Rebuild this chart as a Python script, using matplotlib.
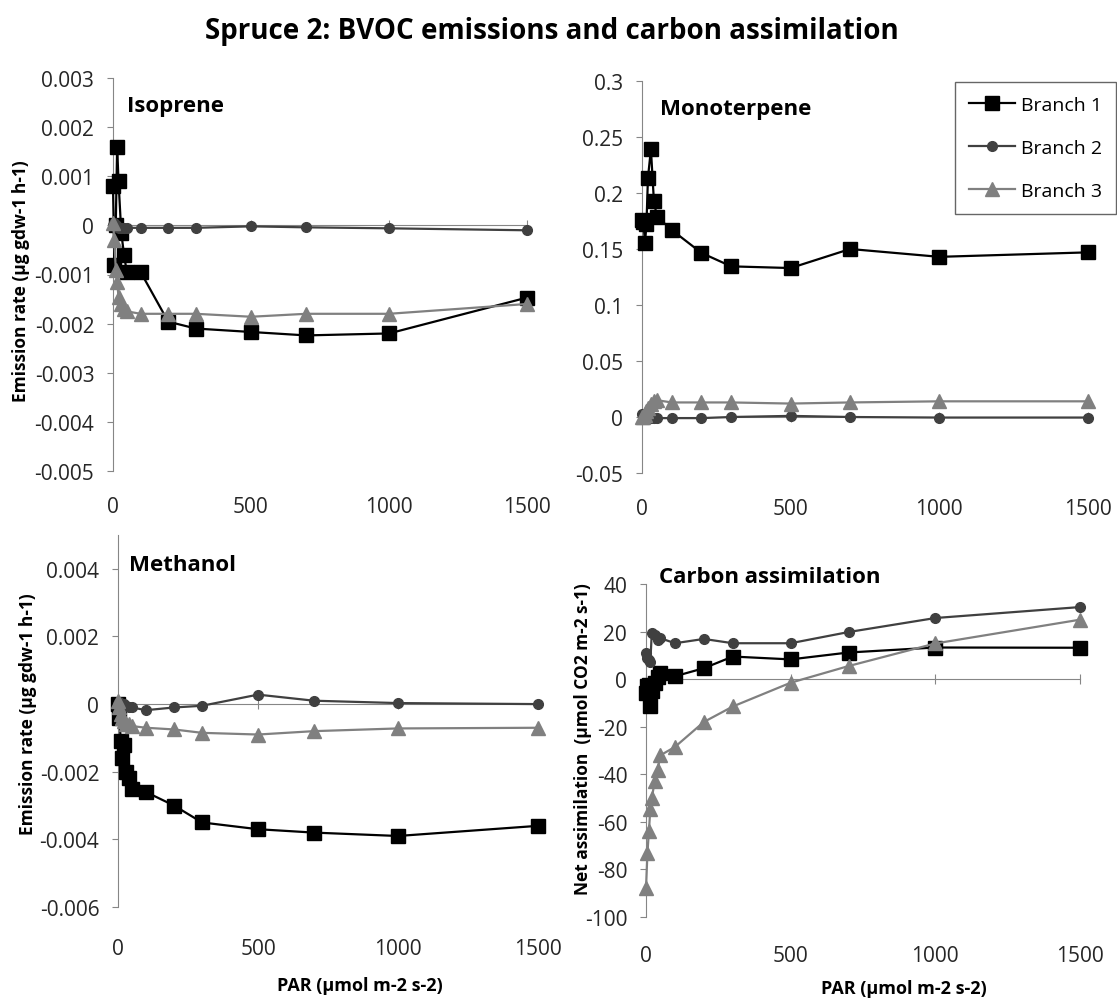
import numpy as np
import matplotlib.pyplot as plt
from matplotlib.lines import Line2D

plt.rcParams['font.family'] = ['Open Sans', 'DejaVu Sans']

# light levels used for all series
par = [0, 5, 10, 15, 20, 30, 40, 50, 100, 200, 300, 500, 700, 1000, 1500]

iso_b1 = [0.0008, -0.0008, 0.0, 0.0016, 0.0009, -0.00015, -0.0006, -0.00095, -0.00095,
          -0.00196, -0.0021, -0.00217, -0.00224, -0.0022, -0.00147]
iso_b2 = [0.0, 0.00005, 0.0, -0.00003, -0.00005, -0.00005, -0.00005, -0.00005, -0.00005,
          -0.00005, -0.00005, -0.00002, -0.00004, -0.00006, -0.0001]
iso_b3 = [0.00005, -0.0003, -0.0009, -0.00115, -0.00145, -0.0016, -0.0017, -0.00175, -0.0018,
          -0.0018, -0.0018, -0.00186, -0.0018, -0.0018, -0.0016]

mono_b1 = [0.176, 0.174, 0.155, 0.172, 0.2135, 0.239, 0.193, 0.179, 0.167,
           0.1465, 0.1345, 0.133, 0.15, 0.143, 0.147]
mono_b2 = [0.003, 0.001, 0.0, -0.001, 0.0, -0.001, -0.001, -0.001, -0.001,
           -0.001, 0.0, 0.001, 0.0, -0.0005, -0.0005]
mono_b3 = [0.0, 0.0, 0.002, 0.005, 0.008, 0.012, 0.014, 0.015, 0.013,
           0.013, 0.013, 0.012, 0.013, 0.014, 0.014]

meth_b1 = [0.0, -0.0004, -0.0011, -0.0016, -0.0012, -0.002, -0.0022, -0.0025, -0.0026,
           -0.003, -0.0035, -0.0037, -0.0038, -0.0039, -0.0036]
meth_b2 = [0.0, 0.00005, 0.0, -0.00005, 0.0, -0.00005, -0.0001, -0.0001, -0.00018,
           -0.0001, -0.00005, 0.00028, 0.0001, 0.00003, 0.0]
meth_b3 = [0.0001, -0.0001, -0.0003, -0.0004, -0.0005, -0.0006, -0.0006, -0.00065, -0.0007,
           -0.00075, -0.00085, -0.0009, -0.0008, -0.00072, -0.0007]

carb_b1 = [-6, -3, -2.5, -11.5, -5, -1.7, 1.1, 2.5, 1.2, 4.6, 9.5, 8.3, 11.2, 13.3, 13.2]
carb_b2 = [11, 9, 8, 7, 19.6, 18.5, 16.5, 17.2, 15.1, 16.9, 15.1, 15.1, 19.8, 25.7, 30.3]
carb_b3 = [-88, -73, -64, -54.5, -50, -43, -38, -32, -28.5, -18, -11.5, -1.5, 5.5, 15, 25]

branch_names = ['Branch 1', 'Branch 2', 'Branch 3']
colors = ['#000000', '#404040', '#808080']
markers = ['s', 'o', '^']
msizes = [9.5, 7, 9.5]

W, H = 1117, 1003
fig = plt.figure(figsize=(W / 100, H / 100), dpi=100)

def make_axes(left, right, top, bottom):
    return fig.add_axes([left / W, 1 - bottom / H, (right - left) / W, (bottom - top) / H])

def style(ax, ylim, yticks, fmt, title, tx, ty, label_pad):
    ax.set_xlim(0, 1500)
    ax.set_ylim(*ylim)
    ax.set_yticks(yticks)
    ax.set_yticklabels([fmt(v) for v in yticks])
    for s in ['top', 'right']:
        ax.spines[s].set_visible(False)
    ax.spines['left'].set_color('#868686')
    ax.spines['bottom'].set_color('#868686')
    ax.spines['bottom'].set_position(('data', 0))
    ax.spines['bottom'].set_zorder(0.5)
    ax.tick_params(axis='y', direction='out', length=4.5, width=0.8, color='#868686',
                   labelsize=15, labelcolor='#262626', pad=9)
    ax.set_xticks([0, 500, 1000, 1500])
    ax.tick_params(axis='x', direction='inout', length=7, width=0.8, color='#868686',
                   labelbottom=False)
    sec = ax.secondary_xaxis('bottom')
    sec.set_xticks([0, 500, 1000, 1500])
    sec.spines['bottom'].set_visible(False)
    sec.tick_params(length=0, labelsize=15, labelcolor='#262626', pad=label_pad)
    ax.text(tx, ty, title, transform=ax.transAxes, fontsize=16, fontweight='bold',
            va='center', ha='left')

def plot_series(ax, series):
    for i, ys in enumerate(series):
        ax.plot(par, ys, color=colors[i], marker=markers[i], markersize=msizes[i],
                linewidth=1.6, clip_on=False, zorder=3 + i, label=branch_names[i])

ax1 = make_axes(113, 527, 79, 472)
plot_series(ax1, [iso_b1, iso_b2, iso_b3])
style(ax1, (-0.005, 0.003), np.arange(-0.005, 0.0031, 0.001),
      lambda v: '0' if abs(v) < 1e-9 else f'{v:.3f}', 'Isoprene', 0.034, 0.931, 18)

ax2 = make_axes(642, 1088, 82, 474)
plot_series(ax2, [mono_b1, mono_b2, mono_b3])
style(ax2, (-0.05, 0.3), np.arange(-0.05, 0.301, 0.05),
      lambda v: '0' if abs(v) < 1e-9 else f'{v:g}' if abs(v * 10 - round(v * 10)) < 1e-9 else f'{v:.2f}',
      'Monoterpene', 0.04, 0.929, 18)

ax3 = make_axes(118, 538, 536, 908)
plot_series(ax3, [meth_b1, meth_b2, meth_b3])
style(ax3, (-0.006, 0.005), np.arange(-0.006, 0.0041, 0.002),
      lambda v: '0' if abs(v) < 1e-9 else f'{v:.3f}', 'Methanol', 0.026, 0.922, 22)

ax4 = make_axes(646, 1080, 585, 918)
plot_series(ax4, [carb_b1, carb_b2, carb_b3])
style(ax4, (-100, 40), np.arange(-100, 41, 20),
      lambda v: f'{v:.0f}', 'Carbon assimilation', 0.03, 1.024, 20)

fig.text(552 / W, 1 - 31 / H, 'Spruce 2: BVOC emissions and carbon assimilation',
         ha='center', va='center', fontsize=20, fontweight='bold')

fig.text(21 / W, 1 - 281 / H, 'Emission rate (µg gdw-1 h-1)', rotation=90,
         ha='center', va='center', fontsize=12.5, fontweight='bold')
fig.text(28 / W, 1 - 714 / H, 'Emission rate (µg gdw-1 h-1)', rotation=90,
         ha='center', va='center', fontsize=12.5, fontweight='bold')
fig.text(583 / W, 1 - 739 / H, 'Net assimilation  (µmol CO2 m-2 s-1)', rotation=90,
         ha='center', va='center', fontsize=12.5, fontweight='bold')

fig.text(360 / W, 1 - 986 / H, 'PAR (µmol m-2 s-2)', ha='center', va='center',
         fontsize=13, fontweight='bold')
fig.text(904 / W, 1 - 989 / H, 'PAR (µmol m-2 s-2)', ha='center', va='center',
         fontsize=13, fontweight='bold')

handles = [Line2D([], [], color=colors[i], marker=markers[i], markersize=msizes[i],
                  linewidth=1.6) for i in range(3)]
leg = fig.legend(handles, branch_names, loc='upper left',
                 bbox_to_anchor=(955 / W, 1 - 83 / H), borderaxespad=0,
                 fontsize=14, frameon=True, fancybox=False, edgecolor='#404040',
                 handlelength=2.4, handletextpad=0.3, labelspacing=1.3,
                 borderpad=0.7)
leg.get_frame().set_linewidth(1.0)

fig.savefig('out.png', dpi=100)
